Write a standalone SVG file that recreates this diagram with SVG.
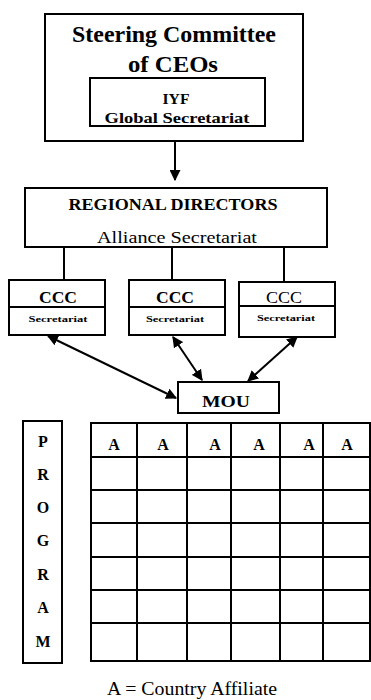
<svg xmlns="http://www.w3.org/2000/svg" width="371" height="700" viewBox="0 0 371 700">
  <style>
    .box { fill: #fff; stroke: #000; stroke-width: 2; }
    .line { stroke: #000; stroke-width: 2; fill: none; }
    .b { font-family: "Liberation Serif", "DejaVu Serif", serif; font-weight: bold; fill: #000; text-anchor: middle; }
    .r { font-family: "Liberation Serif", "DejaVu Serif", serif; fill: #000; text-anchor: middle; }
    .grid { stroke: #000; stroke-width: 2; fill: none; }
  </style>
  <defs>
    <marker id="head" viewBox="0 0 10 10" refX="9" refY="5" markerWidth="5.5" markerHeight="5.5" orient="auto-start-reverse" markerUnits="strokeWidth">
      <path d="M0,0 L10,5 L0,10 Z" fill="#000"/>
    </marker>
  </defs>
  <rect width="371" height="700" fill="#fff"/>

  <!-- connectors -->
  <g id="connectors">
    <line class="line" x1="175" y1="141" x2="175" y2="180" marker-end="url(#head)"/>
    <line class="line" x1="64" y1="247" x2="64" y2="280"/>
    <line class="line" x1="172" y1="247" x2="172" y2="280"/>
    <line class="line" x1="284" y1="247" x2="284" y2="282"/>
    <line class="line" x1="48" y1="336" x2="176" y2="398" marker-start="url(#head)" marker-end="url(#head)"/>
    <line class="line" x1="173" y1="337" x2="202" y2="380" marker-start="url(#head)" marker-end="url(#head)"/>
    <line class="line" x1="297" y1="337" x2="248" y2="381" marker-start="url(#head)" marker-end="url(#head)"/>
  </g>

  <!-- steering committee -->
  <g id="steering">
    <rect class="box" x="45" y="14" width="258" height="127"/>
    <text class="b" x="174" y="42" font-size="24" textLength="204" lengthAdjust="spacingAndGlyphs">Steering Committee</text>
    <text class="b" x="173" y="72" font-size="24" textLength="90" lengthAdjust="spacingAndGlyphs">of CEOs</text>
  </g>
  <g id="global-secretariat">
    <rect class="box" x="90" y="78" width="175" height="48"/>
    <text class="b" x="176" y="104" font-size="14" textLength="27" lengthAdjust="spacingAndGlyphs">IYF</text>
    <text class="b" x="177" y="123" font-size="14" textLength="145" lengthAdjust="spacingAndGlyphs">Global Secretariat</text>
  </g>

  <!-- regional directors -->
  <g id="regional">
    <rect class="box" x="25" y="188" width="302" height="59"/>
    <text class="b" x="173" y="210" font-size="16" textLength="209" lengthAdjust="spacingAndGlyphs">REGIONAL DIRECTORS</text>
    <text class="r" x="177" y="243" font-size="17" textLength="160" lengthAdjust="spacingAndGlyphs">Alliance Secretariat</text>
  </g>

  <!-- CCC secretariats -->
  <g id="ccc1">
    <rect class="box" x="9" y="280" width="96" height="55"/>
    <line class="line" x1="9" y1="307" x2="105" y2="307"/>
    <text class="b" x="58" y="303" font-size="17" textLength="38" lengthAdjust="spacingAndGlyphs">CCC</text>
    <text class="b" x="58" y="322" font-size="9" textLength="59" lengthAdjust="spacingAndGlyphs">Secretariat</text>
  </g>
  <g id="ccc2">
    <rect class="box" x="129" y="280" width="96" height="55"/>
    <line class="line" x1="129" y1="307" x2="225" y2="307"/>
    <text class="b" x="175" y="303" font-size="17" textLength="38" lengthAdjust="spacingAndGlyphs">CCC</text>
    <text class="b" x="175" y="322" font-size="9" textLength="58" lengthAdjust="spacingAndGlyphs">Secretariat</text>
  </g>
  <g id="ccc3">
    <rect class="box" x="239" y="282" width="96" height="55"/>
    <line class="line" x1="239" y1="306" x2="335" y2="306"/>
    <text class="r" x="284" y="303" font-size="16" textLength="36" lengthAdjust="spacingAndGlyphs">CCC</text>
    <text class="b" x="286" y="321" font-size="9" textLength="58" lengthAdjust="spacingAndGlyphs">Secretariat</text>
  </g>

  <!-- MOU -->
  <g id="mou">
    <rect class="box" x="178" y="382" width="101" height="31"/>
    <text class="b" x="226" y="407" font-size="17" textLength="48" lengthAdjust="spacingAndGlyphs">MOU</text>
  </g>

  <!-- PROGRAM column -->
  <g id="program">
    <rect class="box" x="23" y="421" width="39" height="242"/>
    <text class="b" x="43" y="447" font-size="16">P</text>
    <text class="b" x="43" y="480" font-size="16">R</text>
    <text class="b" x="43" y="513" font-size="16">O</text>
    <text class="b" x="43" y="546" font-size="16">G</text>
    <text class="b" x="43" y="580" font-size="16">R</text>
    <text class="b" x="43" y="613" font-size="16">A</text>
    <text class="b" x="43" y="647" font-size="16">M</text>
  </g>

  <!-- affiliate grid -->
  <g id="affiliates">
    <rect class="grid" x="91" y="423" width="279" height="238"/>
    <path class="grid" d="M137,423V661 M187,423V661 M231,423V661 M280,423V661 M323,423V661
                          M91,457H370 M91,490H370 M91,523H370 M91,557H370 M91,590H370 M91,623H370"/>
    <text class="b" x="114" y="450" font-size="16">A</text>
    <text class="b" x="163" y="450" font-size="16">A</text>
    <text class="b" x="215" y="450" font-size="16">A</text>
    <text class="b" x="259" y="450" font-size="16">A</text>
    <text class="b" x="309" y="450" font-size="16">A</text>
    <text class="b" x="347" y="450" font-size="16">A</text>
  </g>

  <text class="r" x="192" y="695" font-size="18" textLength="170" lengthAdjust="spacingAndGlyphs">A = Country Affiliate</text>
</svg>
